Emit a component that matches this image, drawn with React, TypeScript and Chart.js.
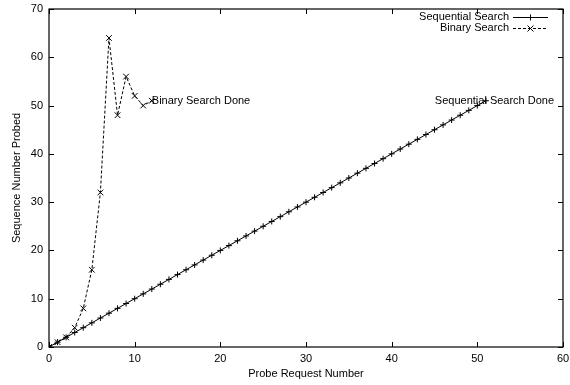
import React, { useEffect, useRef } from "react";
import { Chart, registerables } from "chart.js";

Chart.register(...registerables);

const seqX = [0,1,2,3,4,5,6,7,8,9,10,11,12,13,14,15,16,17,18,19,20,21,22,23,24,25,26,27,28,29,30,31,32,33,34,35,36,37,38,39,40,41,42,43,44,45,46,47,48,49,50,51];
const seqY = [0,1,2,3,4,5,6,7,8,9,10,11,12,13,14,15,16,17,18,19,20,21,22,23,24,25,26,27,28,29,30,31,32,33,34,35,36,37,38,39,40,41,42,43,44,45,46,47,48,49,50,51];
const binX = [0,1,2,3,4,5,6,7,8,9,10,11,12];
const binY = [0,1,2,4,8,16,32,64,48,56,52,50,51];

const xTicks = [0,10,20,30,40,50,60];
const yTicks = [0,10,20,30,40,50,60,70];

const seriesNames = ["Sequential Search", "Binary Search"];
const xTitle = "Probe Request Number";
const yTitle = "Sequence Number Probed";
const annotations = [
  { text: "Binary Search Done", x: 12, y: 51, align: "left" },
  { text: "Sequential Search Done", x: 52, y: 51, align: "center" },
];

const FONT = "11px 'Liberation Sans', Arial, sans-serif";

const framePlugin = {
  id: "gnuframe",
  afterDraw(chart: any) {
    const ctx = chart.ctx;
    const { left, right, top, bottom } = chart.chartArea;
    const xs = chart.scales.x;
    const ys = chart.scales.y;
    ctx.save();
    ctx.strokeStyle = "#000";
    ctx.lineWidth = 1.2;
    ctx.setLineDash([]);
    ctx.strokeRect(left, top, right - left, bottom - top);
    const tl = 5;
    ctx.lineWidth = 1;
    ctx.beginPath();
    for (const v of xTicks) {
      const px = Math.round(xs.getPixelForValue(v)) + 0.5;
      ctx.moveTo(px, bottom); ctx.lineTo(px, bottom - tl);
      ctx.moveTo(px, top); ctx.lineTo(px, top + tl);
    }
    for (const v of yTicks) {
      const py = Math.round(ys.getPixelForValue(v)) + 0.5;
      ctx.moveTo(left, py); ctx.lineTo(left + tl, py);
      ctx.moveTo(right, py); ctx.lineTo(right - tl, py);
    }
    ctx.stroke();

    ctx.fillStyle = "#000";
    ctx.font = FONT;
    ctx.textBaseline = "middle";
    // tick labels
    ctx.textAlign = "center";
    for (const v of xTicks) {
      ctx.fillText(String(v), xs.getPixelForValue(v), bottom + 12);
    }
    ctx.textAlign = "right";
    for (const v of yTicks) {
      ctx.fillText(String(v), left - 6, ys.getPixelForValue(v));
    }
    // annotations
    for (const a of annotations) {
      ctx.textAlign = a.align as CanvasTextAlign;
      ctx.fillText(a.text, xs.getPixelForValue(a.x), ys.getPixelForValue(a.y));
    }
    // axis titles
    ctx.textAlign = "center";
    ctx.fillText(xTitle, (left + right) / 2, 374);
    ctx.save();
    ctx.translate(17, (top + bottom) / 2);
    ctx.rotate(-Math.PI / 2);
    ctx.fillText(yTitle, 0, 0);
    ctx.restore();

    // legend
    const rows = [17, 28];
    const lx0 = 513, lx1 = 548, tx = 509;
    ctx.textAlign = "right";
    rows.forEach((ry, i) => {
      ctx.fillText(seriesNames[i], tx, ry);
      ctx.beginPath();
      ctx.setLineDash(i === 0 ? [] : [3, 2]);
      ctx.moveTo(lx0, ry + 0.5); ctx.lineTo(lx1, ry + 0.5);
      ctx.stroke();
      ctx.setLineDash([]);
      const cx = (lx0 + lx1) / 2, cy = ry + 0.5;
      ctx.beginPath();
      if (i === 0) {
        ctx.moveTo(cx - 3, cy); ctx.lineTo(cx + 3, cy);
        ctx.moveTo(cx, cy - 3); ctx.lineTo(cx, cy + 3);
      } else {
        ctx.moveTo(cx - 3, cy - 3); ctx.lineTo(cx + 3, cy + 3);
        ctx.moveTo(cx - 3, cy + 3); ctx.lineTo(cx + 3, cy - 3);
      }
      ctx.stroke();
    });
    ctx.restore();
  },
};

export default function App() {
  const ref = useRef<HTMLCanvasElement | null>(null);
  useEffect(() => {
    if (!ref.current) return;
    const chart = new Chart(ref.current, {
      type: "scatter",
      data: {
        datasets: [
          {
            label: seriesNames[0],
            data: seqX.map((x, i) => ({ x, y: seqY[i] })),
            showLine: true,
            borderColor: "#000",
            backgroundColor: "#000",
            borderWidth: 1,
            pointStyle: "cross",
            pointRadius: 3,
            pointBorderWidth: 1,
            pointBorderColor: "#000",
          },
          {
            label: seriesNames[1],
            data: binX.map((x, i) => ({ x, y: binY[i] })),
            showLine: true,
            borderColor: "#000",
            backgroundColor: "#000",
            borderWidth: 1,
            borderDash: [3, 2],
            pointStyle: "crossRot",
            pointRadius: 4,
            pointBorderWidth: 1,
            pointBorderColor: "#000",
          },
        ],
      },
      options: {
        animation: false,
        responsive: false,
        devicePixelRatio: 1,
        layout: { padding: { left: 0, top: 9, right: 7, bottom: 0 } },
        plugins: { legend: { display: false }, tooltip: { enabled: false } },
        scales: {
          x: {
            type: "linear",
            min: 0,
            max: 60,
            afterFit: (s: any) => { s.height = 38; s.paddingLeft = 0; s.paddingRight = 0; },
            grid: { display: false, drawTicks: false },
            border: { display: false },
            ticks: { display: false },
          },
          y: {
            type: "linear",
            min: 0,
            max: 70,
            afterFit: (s: any) => { s.width = 49; s.paddingTop = 0; s.paddingBottom = 0; },
            grid: { display: false, drawTicks: false },
            border: { display: false },
            ticks: { display: false },
          },
        },
      },
      plugins: [framePlugin],
    });
    return () => chart.destroy();
  }, []);
  return (
    <div style={{ position: "absolute", left: 0, top: 0, width: 570, height: 385, background: "#fff" }}>
      <canvas ref={ref} width={570} height={385} style={{ width: 570, height: 385 }} />
    </div>
  );
}
